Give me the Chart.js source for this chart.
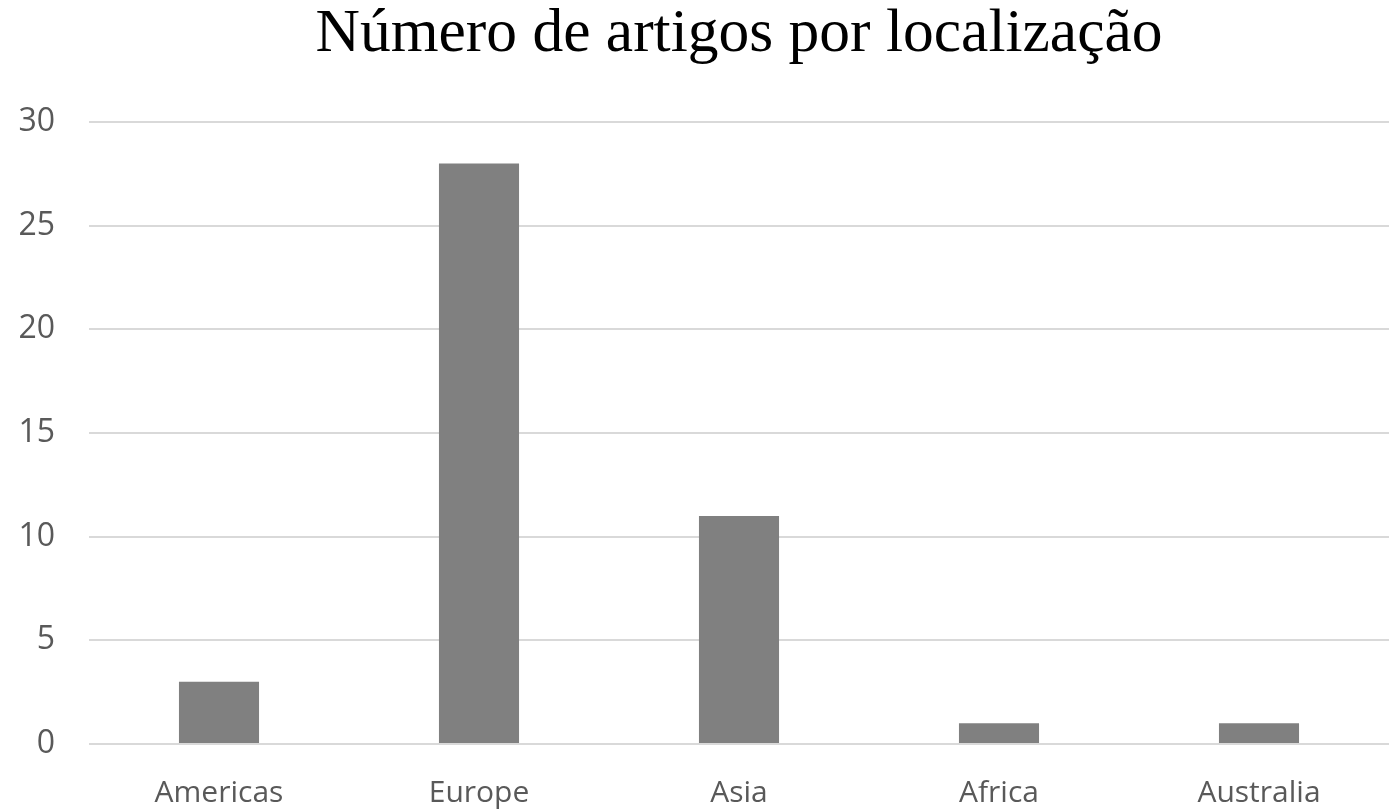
<!DOCTYPE html>
<html>
<head>
<meta charset="utf-8">
<script src="https://cdn.jsdelivr.net/npm/chart.js@4"></script>
<style>
  html, body { margin: 0; padding: 0; background: #fff; }
  #wrap { width: 1399px; height: 809px; }
</style>
</head>
<body>
<div id="wrap"><canvas id="locChart"></canvas></div>
<script>
const regions = ["Americas", "Europe", "Asia", "Africa", "Australia"];
const articleCounts = [3, 28, 11, 1, 1];
const yTicks = [0, 5, 10, 15, 20, 25, 30];

// center the title over the plot area instead of the whole canvas
const titleOverPlot = {
  id: "titleOverPlot",
  afterLayout(chart) {
    if (chart.titleBlock) {
      chart.titleBlock.left = chart.chartArea.left;
      chart.titleBlock.right = chart.chartArea.right;
    }
  }
};

const ctx = document.getElementById("locChart").getContext("2d");

new Chart(ctx, {
  type: "bar",
  data: {
    labels: regions,
    datasets: [
      {
        label: "Artigos",
        data: articleCounts,
        backgroundColor: "#808080",
        borderWidth: 0,
        categoryPercentage: 1,
        barPercentage: 0.308
      }
    ]
  },
  options: {
    responsive: true,
    maintainAspectRatio: false,
    animation: false,
    layout: { padding: { left: 0, right: 10, top: 0, bottom: 0 } },
    plugins: {
      legend: { display: false },
      tooltip: { enabled: false },
      title: {
        display: true,
        text: "Número de artigos por localização",
        color: "#000",
        font: { family: "Liberation Serif", size: 61.5, weight: "normal", lineHeight: 1 },
        padding: { top: 4, bottom: 56.5 }
      }
    },
    scales: {
      x: {
        grid: { display: false, drawTicks: false },
        border: { display: false },
        ticks: {
          color: "#595959",
          font: { family: "Open Sans", size: 30 },
          padding: 31,
          maxRotation: 0
        },
        afterFit: function (scale) { scale.height = 65; }
      },
      y: {
        min: 0,
        max: 30,
        afterBuildTicks: function (scale) {
          scale.ticks = yTicks.map(function (v) { return { value: v }; });
        },
        grid: { color: "#d9d9d9", lineWidth: 2, drawTicks: false },
        border: { display: false },
        ticks: {
          color: "#595959",
          font: { family: "Open Sans", size: 32 },
          padding: 34
        },
        afterFit: function (scale) { scale.width = 89; }
      }
    }
  },
  plugins: [titleOverPlot]
});
</script>
</body>
</html>
